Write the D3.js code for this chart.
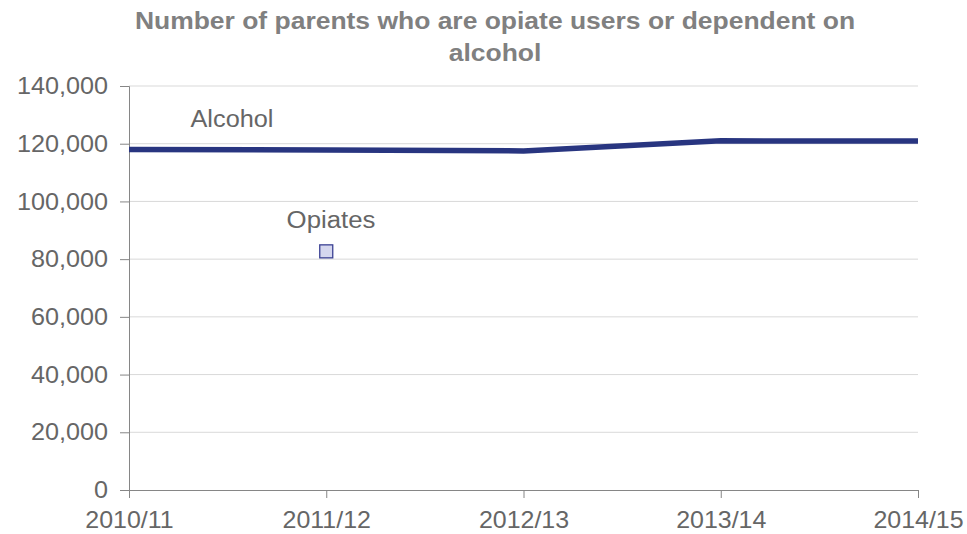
<!DOCTYPE html>
<html><head><meta charset="utf-8">
<script src="https://cdn.jsdelivr.net/npm/d3@7/dist/d3.min.js"></script>
<style>body{margin:0;background:#fff;}svg{display:block;font-family:"Liberation Sans",Arial,sans-serif;}</style>
</head><body><svg id="c" width="967" height="534"></svg>
<script>
const categories = ["2010/11","2011/12","2012/13","2013/14","2014/15"];
const alcohol = [118000,117800,117500,121000,120900];
const opiates = [null,82700,null,null,null];
const yTicks = [0,20000,40000,60000,80000,100000,120000,140000];
const titleLines = ["Number of parents who are opiate users or dependent on","alcohol"];

const svg = d3.select("#c");
const m = {l:129, r:918, t:86, b:490};
const x = d3.scalePoint().domain(categories).range([m.l, m.r]);
const y = d3.scaleLinear().domain([0,140000]).range([m.b, m.t]);
const fmt = d3.format(",");
const FONT = "Liberation Sans, Arial, sans-serif";

function stretch(sel, f){
  sel.each(function(){
    const w = this.getComputedTextLength();
    d3.select(this).attr("textLength", w*f).attr("lengthAdjust","spacingAndGlyphs");
  });
}

// gridlines
svg.append("g").selectAll("line").data(yTicks.filter(d=>d>0)).join("line")
  .attr("x1", m.l).attr("x2", m.r).attr("y1", d=>y(d)).attr("y2", d=>y(d))
  .attr("stroke", "#d9d9d9").attr("stroke-width", 1);

// y axis
const ya = svg.append("g").attr("transform", `translate(${m.l},0)`)
  .call(d3.axisLeft(y).tickValues(yTicks).tickFormat(fmt).tickSize(9).tickPadding(12));
ya.select(".domain").attr("stroke", "#868686");
ya.selectAll(".tick line").attr("stroke", "#868686");
ya.selectAll("text").attr("font-size", 24).attr("fill", "#666666").attr("font-family", FONT);
stretch(ya.selectAll("text"), 1.05);

// x axis
const xa = svg.append("g").attr("transform", `translate(0,${m.b})`)
  .call(d3.axisBottom(x).tickSize(8).tickPadding(13).tickSizeOuter(0));
xa.select(".domain").attr("stroke", "#868686");
xa.selectAll(".tick line").attr("stroke", "#868686");
xa.selectAll("text").attr("font-size", 24).attr("fill", "#666666").attr("font-family", FONT);
stretch(xa.selectAll("text"), 1.04);

// alcohol line
svg.append("path").datum(alcohol)
  .attr("fill","none").attr("stroke","#283580").attr("stroke-width",5.5)
  .attr("d", d3.line().x((d,i)=>x(categories[i])).y(d=>y(d)));

// opiates marker
svg.append("g").selectAll("rect").data(opiates.map((v,i)=>({v,c:categories[i]})).filter(d=>d.v!=null)).join("rect")
  .attr("x", d=>x(d.c)-6.5).attr("y", d=>y(d.v)-6.5).attr("width",13).attr("height",13)
  .attr("fill","#d5d7ee").attr("stroke","#3b4193").attr("stroke-width",1.3);

// series labels
const l1 = svg.append("text").attr("x", 232).attr("y", 127).attr("text-anchor","middle")
  .attr("font-size",23).attr("fill","#666666").text("Alcohol");
const l2 = svg.append("text").attr("x", 331).attr("y", 228).attr("text-anchor","middle")
  .attr("font-size",23).attr("fill","#666666").text("Opiates");
stretch(l1, 1.1); stretch(l2, 1.12);

// title
const tt = svg.append("g").selectAll("text").data(titleLines).join("text")
  .attr("x", 495).attr("y", (d,i)=>28.5 + i*32).attr("text-anchor","middle")
  .attr("font-size",23).attr("font-weight","bold").attr("fill","#808080").text(d=>d);
stretch(tt, 1.15);
</script></body></html>
